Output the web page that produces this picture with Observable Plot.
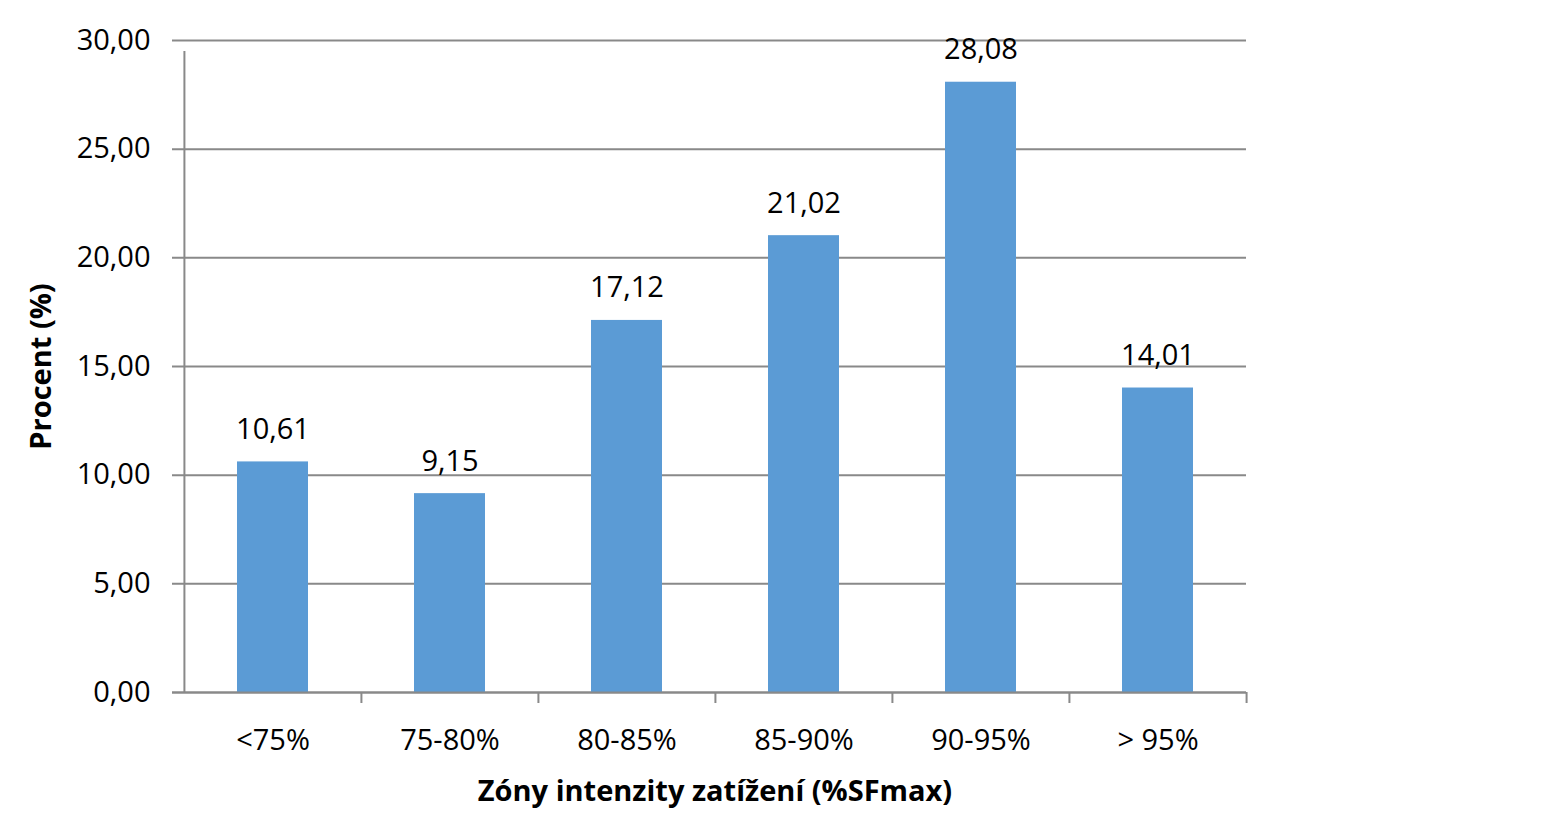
<!DOCTYPE html>
<html>
<head>
<meta charset="utf-8">
<script src="https://cdn.jsdelivr.net/npm/d3@7"></script>
<script src="https://cdn.jsdelivr.net/npm/@observablehq/plot@0.6"></script>
<style>
  html, body { margin: 0; padding: 0; background: #fff; }
  svg { display: block; }
</style>
</head>
<body>
<div id="chart"></div>
<script>
const categories = ["<75%", "75-80%", "80-85%", "85-90%", "90-95%", "> 95%"];
const values = [10.61, 9.15, 17.12, 21.02, 28.08, 14.01];
const yTicks = [0, 5, 10, 15, 20, 25, 30];
const yLabel = "Procent (%)";
const xLabel = "Zóny intenzity zatížení (%SFmax)";

const data = categories.map((c, i) => ({cat: c, val: values[i]}));
const fmt = v => v.toFixed(2).replace(".", ",");

const W = 1543, H = 816;
const mL = 183, mR = 297, mT = 40, mB = 124;
const step = (W - mL - mR) / categories.length;
const grid = "#898989";
const font = "Open Sans";
const fs = 29;

const chart = Plot.plot({
  width: W,
  height: H,
  marginLeft: mL,
  marginRight: mR,
  marginTop: mT,
  marginBottom: mB,
  style: {fontFamily: font, background: "#fff"},
  x: {domain: categories, paddingInner: 0.6, paddingOuter: 0.3, label: null},
  y: {domain: [0, 30], label: null},
  marks: [
    Plot.ruleY(yTicks, {y: d => d, stroke: grid, strokeWidth: 2, insetLeft: -11}),
    Plot.barY(data, {x: "cat", y: "val", fill: "#5B9BD5"}),
    // y axis line at the left edge of the first category band, extending down as a tick
    Plot.ruleX([categories[0]], {x: d => d, y1: 0, y2: 30, dx: -step / 2, insetBottom: -11, stroke: grid, strokeWidth: 2}),
    Plot.ruleX(categories.slice(1), {x: d => d, y1: 0, y2: 0, dx: -step / 2, insetBottom: -11, stroke: grid, strokeWidth: 2}),
    Plot.ruleX([categories[categories.length - 1]], {x: d => d, y1: 0, y2: 0, dx: step / 2, insetBottom: -11, stroke: grid, strokeWidth: 2}),
    Plot.ruleY([0], {stroke: grid, strokeWidth: 2, insetLeft: -11}),
    Plot.text(data, {x: "cat", y: "val", text: d => fmt(d.val), lineAnchor: "bottom", dy: -23, fontSize: fs, fill: "#000"}),
    Plot.axisY({ticks: yTicks, tickFormat: fmt, tickSize: 0, tickPadding: 33, fontSize: fs, fill: "#000"}),
    Plot.axisX({tickSize: 0, tickPadding: 37, fontSize: fs, fill: "#000"}),
    Plot.text([yLabel], {frameAnchor: "left", textAnchor: "middle", dx: -142, rotate: -90, text: d => d, fontSize: fs, fontWeight: "bold", fill: "#000"}),
    Plot.text([xLabel], {frameAnchor: "bottom", dy: 108, text: d => d, fontSize: fs, fontWeight: "bold", fill: "#000"})
  ]
});
document.getElementById("chart").appendChild(chart);
</script>
</body>
</html>
